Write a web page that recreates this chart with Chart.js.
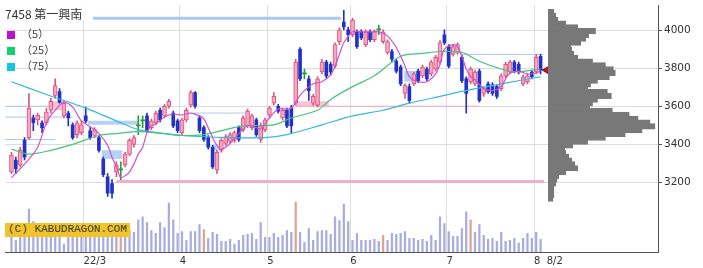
<!DOCTYPE html>
<html>
<head>
<meta charset="utf-8">
<script src="https://cdn.jsdelivr.net/npm/chart.js@4.4.0/dist/chart.umd.min.js"></script>
<style>
  body { margin: 0; background: #fff; }
  #wrap { position: relative; width: 703px; height: 268px; overflow: hidden; }
  #main { position: absolute; left: 0; top: 0; }
  #prof { position: absolute; }
  .ttl { position: absolute; left: 4px; top: 6px; font: 12px "Noto Sans CJK JP"; color: #333; background: #fff; padding: 0 11px 0 1px; line-height: 15px; }
  .lg { position: absolute; left: 7px; font: 11px "Noto Sans CJK JP"; color: #444; line-height: 12px; }
  .lg i { display: inline-block; width: 8px; height: 8px; margin-right: 6px; vertical-align: -1px; }
  .copy { position: absolute; left: 5px; top: 223px; height: 14px; line-height: 14px; padding: 0 3px; background: #f1c52a; color: #3a3a3a; font: 11px "Liberation Mono"; }
</style>
</head>
<body>
<div id="wrap">
  <canvas id="main" width="703" height="268"></canvas>
  <canvas id="prof"></canvas>
  <div class="ttl">7458 第一興南</div>
  <div class="lg" style="top:27px"><i style="background:#c010d0"></i>（5）</div>
  <div class="lg" style="top:43px"><i style="background:#10d070"></i>（25）</div>
  <div class="lg" style="top:59px"><i style="background:#10c8e0"></i>（75）</div>
  <div class="copy">(C) KABUDRAGON.COM</div>
</div>
<script>
// 日足 2022/2/2 - 8/2 (index 0..121)
var open = [3257,3319,3293,3422,3437,3540,3530,3515,3515,3581, 3659,3679,3551,3566,3504,3453,3463,3551,3473,3448,
            3437,3324,3231,3195,3257,3267,3293,3350,3401,3499, 3525,3551,3489,3515,3581,3551,3602,3566,3525,3463,
            3530,3607,3674,3540,3489,3437,3386,3267,3370,3406, 3417,3422,3489,3479,3499,3489,3530,3427,3479,3556,
            3618,3602,3540,3581,3592,3618,3901,3772,3746,3618, 3607,3782,3834,3823,3813,3942,4045,4004,3978,3993,
            3993,3926,3993,3952,4004,3942,3885,3890,3839,3808, 3669,3705,3720,3787,3762,3798,3772,3798,3834,3978,
            3916,3875,3885,3859,3746,3731,3720,3787,3669,3720, 3715,3705,3695,3762,3782,3834,3823,3720,3731,3782,
            3782,3865];
var high = [3360,3334,3386,3437,3669,3556,3566,3525,3592,3643, 3746,3695,3628,3576,3515,3525,3525,3597,3489,3489,
            3448,3334,3247,3216,3309,3309,3360,3432,3448,3551, 3551,3566,3535,3576,3592,3612,3638,3576,3535,3540,
            3592,3684,3679,3551,3499,3448,3396,3370,3432,3453, 3463,3473,3499,3551,3587,3561,3540,3515,3540,3602,
            3674,3612,3592,3592,3607,3849,3911,3798,3762,3664, 3757,3849,3844,3834,3936,4014,4107,4019,4065,4004,
            4004,4004,4004,4004,4029,4004,3952,3901,3849,3818, 3720,3720,3782,3798,3818,3808,3844,3870,3947,4004,
            3926,3926,3936,3870,3757,3808,3792,3798,3705,3731, 3726,3715,3772,3834,3844,3844,3834,3767,3772,3792,
            3875,3875];
var low  = [3247,3247,3283,3319,3427,3473,3504,3463,3504,3566, 3643,3618,3540,3499,3427,3437,3453,3515,3427,3437,
            3360,3231,3128,3118,3231,3216,3283,3340,3386,3453, 3489,3463,3479,3504,3520,3540,3592,3489,3463,3453,
            3520,3597,3592,3463,3417,3376,3273,3247,3360,3396, 3406,3412,3417,3468,3489,3479,3443,3412,3468,3545,
            3607,3566,3530,3489,3463,3607,3736,3746,3633,3607, 3597,3772,3751,3767,3803,3926,4004,3942,3968,3906,
            3952,3916,3942,3942,3978,3932,3875,3834,3777,3710, 3643,3618,3710,3726,3751,3736,3762,3787,3823,3926,
            3803,3865,3875,3726,3566,3720,3710,3623,3654,3669, 3659,3643,3684,3751,3772,3777,3772,3710,3720,3746,
            3772,3772];
var close = [3345,3273,3370,3334,3592,3515,3556,3489,3571,3628, 3710,3622,3618,3540,3437,3515,3504,3525,3437,3479,
             3370,3242,3144,3144,3293,3267,3350,3422,3437,3499, 3525,3473,3525,3566,3530,3602,3628,3499,3473,3530,
             3581,3674,3602,3473,3427,3386,3283,3360,3422,3442, 3453,3463,3427,3540,3576,3551,3453,3499,3530,3592,
             3654,3576,3581,3499,3499,3834,3746,3772,3684,3654, 3746,3834,3762,3782,3926,4004,4019,3978,4055,3916,
             3962,3993,3952,3993,4004,3993,3942,3849,3787,3720, 3710,3633,3772,3736,3808,3746,3834,3859,3936,3936,
             3813,3916,3926,3736,3669,3798,3782,3633,3695,3679, 3669,3654,3762,3823,3834,3787,3782,3757,3762,3757,
             3859,3792];
// 出来高 (千株)
var volume = [17,12,20,20,44,31,22,20,24,22, 26,22,8,18,22,20,18,22,20,18,
              24,26,28,26,20,15,22,22,20,33, 36,30,22,19,30,25,50,33,19,21,
              12,21,21,28,23,14,20,18,11,11, 13,8,12,17,18,19,13,30,15,15,
              19,15,17,22,20,51,20,10,24,12, 21,22,22,18,36,32,49,31,12,19,
              12,12,12,13,11,17,12,19,18,19, 21,14,14,12,13,11,17,12,36,29,
              21,16,16,24,41,33,20,28,17,13, 14,11,20,11,12,14,9,14,19,14,
              20,13];
var volMark = [25, 44, 65, 85, 105];

// 移動平均 (読み取り)
var ma5Day = [0,2,4,6,8,10,12,14,16,18,20,22,23,24,25,26,27,28,29,30,31,32,33,35,37,39,41,43,44,45,46,47,48,50,52,54,56,57,59,61,63,64,66,67,69,71,73,74,75,76,78,80,82,84,86,88,89,90,91,93,95,97,98,99,101,102,103,104,105,106,108,110,112,113,114,116,118,120,121];
var ma5Val = [3226,3273,3324,3386,3515,3581,3622,3597,3525,3494,3458,3396,3334,3283,3226,3236,3257,3298,3350,3386,3463,3499,3509,3545,3561,3556,3566,3551,3535,3489,3437,3396,3376,3406,3458,3499,3489,3484,3540,3587,3587,3592,3659,3684,3720,3731,3767,3813,3875,3936,3993,3993,3993,3993,3972,3911,3865,3813,3757,3731,3731,3772,3823,3901,3926,3916,3865,3798,3757,3741,3695,3684,3705,3746,3777,3787,3772,3777,3787];
var ma25Day = [0,4,9,14,20,24,29,35,39,44,49,53,60,64,70,73,78,83,89,94,98,103,107,112,115,121];
var ma25Val = [3376,3350,3370,3401,3448,3458,3468,3458,3448,3453,3479,3499,3504,3540,3581,3638,3705,3762,3865,3880,3890,3885,3839,3798,3782,3798];
var ma75Day = [0,8,17,24,29,35,39,49,58,63,71,78,85,91,98,105,112,121];
var ma75Val = [3731,3664,3592,3525,3479,3458,3448,3437,3437,3453,3504,3551,3581,3618,3654,3689,3720,3757];

// 月の区切り (最初の営業日の index)
var monthStart = [17, 39, 59, 78, 100, 120];
var monthLabel = ['22/3', '4', '5', '6', '7', '8'];
var lastLabel = '8/2';
var priceTicks = [3200, 3400, 3600, 3800, 4000];

// 水平線 [開始index, 終了index, 価格, 種類]
var levels = [[-2, 75.3, 4065, 'blueThick'], [24, 121.8, 3206, 'pinkThick'], [65, 107, 3602, 'pinkThin'],
              [102.5, 121.5, 3875, 'blueThin'], [41.7, 53.5, 3566, 'blueThin'],
              [-2, 9.3, 3602, 'blueThin'], [-2, 14, 3545, 'blueThin'], [-2, 10, 3427, 'blueThin']];
// 窓 [開始index, 終了index, 下値, 上値, 種類]
var gaps = [[8.8, 11.6, 3581, 3628, 'pink'], [17.5, 29, 3504, 3525, 'blue'], [20.6, 25.4, 3324, 3370, 'blue'],
            [45.8, 47.4, 3370, 3401, 'blue'], [65, 72.6, 3602, 3628, 'pink'], [89.8, 93.6, 3731, 3787, 'blue']];

// 価格帯別出来高
var profPrice = [4100,4080,4060,4040,4020,4000,3980,3960,3940,3920,3900,3880,3860,3840,3820,3800,3780,3760,3740,3720,
                 3700,3680,3660,3640,3620,3600,3580,3560,3540,3520,3500,3480,3460,3440,3420,3400,3380,3360,3340,3320,
                 3300,3280,3260,3240,3220,3200,3180,3160,3140,3120];
var profVol = [6,8,10,18,30,48,41,38,33,23,24,26,30,45,58,66,68,62,50,43,
               40,60,64,50,45,42,65,82,91,103,108,95,78,58,40,25,17,18,21,24,
               27,30,18,11,9,8,6,6,6,5];

var PRICE_MIN = 2835, PRICE_MAX = 4132;
var N = close.length;
var days = close.map(function (c, i) { return i; });
var kind = days.map(function (i) { return close[i] > open[i] ? 'up' : (close[i] < open[i] ? 'down' : 'doji'); });
var candleColor = {
  up:   { body: '#f5a8c0', edge: '#df5380' },
  down: { body: '#2232c4', edge: '#2232c4' },
  doji: { body: '#2f9a3c', edge: '#2f9a3c' }
};
var levelStyle = {
  blueThick: { color: '#a9c8ef', width: 3 }, pinkThick: { color: '#f1afca', width: 3 },
  blueThin: { color: '#a9c8ef', width: 1 }, pinkThin: { color: '#f1a9c4', width: 1 }
};
var gapColor = { blue: '#b5d2f6', pink: '#f8c3d4' };

var datasets = [];

// 終値マーカー
datasets.push({
  type: 'line', order: 0, showLine: false, data: [{ x: N - 1 + 1.4, y: close[N - 1] }],
  pointStyle: 'triangle', pointRotation: -90, pointRadius: 4.5,
  pointBackgroundColor: '#c8141c', pointBorderColor: '#7a1010', pointBorderWidth: 1
});

function maSet(d, v, color) {
  return { type: 'line', order: 1, data: d.map(function (x, k) { return { x: x, y: v[k] }; }),
           borderColor: color, borderWidth: 1.2, pointRadius: 0, tension: 0.3, fill: false };
}
datasets.push(maSet(ma5Day, ma5Val, '#d14fd3'));
datasets.push(maSet(ma25Day, ma25Val, '#45c47a'));
datasets.push(maSet(ma75Day, ma75Val, '#38b8da'));

['up', 'down', 'doji'].forEach(function (k) {
  var ids = days.filter(function (i) { return kind[i] === k; });
  datasets.push({
    type: 'bar', order: 2, grouped: false, barThickness: k === 'down' ? 3 : 4, minBarLength: 1,
    data: ids.map(function (i) { return { x: i, y: [open[i], close[i]] }; }),
    backgroundColor: candleColor[k].body, borderColor: candleColor[k].edge,
    borderWidth: k === 'up' ? 1 : 0, borderSkipped: false
  });
  datasets.push({
    type: 'bar', order: 3, grouped: false, barThickness: 1,
    data: ids.map(function (i) { return { x: i, y: [low[i], high[i]] }; }),
    backgroundColor: candleColor[k].edge
  });
});

levels.forEach(function (l) {
  var st = levelStyle[l[3]];
  datasets.push({ type: 'line', order: 5, data: [{ x: l[0], y: l[2] }, { x: l[1], y: l[2] }],
                  borderColor: st.color, borderWidth: st.width, pointRadius: 0, fill: false });
});
gaps.forEach(function (g) {
  datasets.push({ type: 'line', order: 5, data: [{ x: g[0], y: g[2] }, { x: g[1], y: g[2] }],
                  borderWidth: 0, pointRadius: 0, fill: false });
  datasets.push({ type: 'line', order: 5, data: [{ x: g[0], y: g[3] }, { x: g[1], y: g[3] }],
                  borderWidth: 0, pointRadius: 0, fill: '-1', backgroundColor: gapColor[g[4]] });
});

datasets.push({
  type: 'bar', order: 6, grouped: false, barThickness: 1.6, yAxisID: 'yv',
  data: days.map(function (i) { return { x: i, y: volume[i] }; }),
  backgroundColor: days.map(function (i) { return volMark.indexOf(i) >= 0 ? '#dea48e' : '#a9acdc'; })
});

var xTicks = monthStart.map(function (m) { return m - 0.5; }).concat([N - 1 + 1.4]);
var xLabels = monthLabel.concat([lastLabel]);

var chart = new Chart(document.getElementById('main'), {
  type: 'bar',
  data: { datasets: datasets },
  options: {
    responsive: false, animation: false,
    layout: { padding: 0 },
    plugins: { legend: { display: false }, tooltip: { enabled: false } },
    scales: {
      x: {
        type: 'linear', min: -1.36, max: 147.85, offset: false,
        grid: { offset: false, drawTicks: false,
                color: function (c) { return c.index === xTicks.length - 1 ? 'rgba(0,0,0,0)' : '#dcdcdc'; } },
        border: { color: '#555' },
        ticks: { align: 'start', padding: 3, color: '#333', autoSkip: false, maxRotation: 0,
                 font: { family: 'DejaVu Sans', size: 10 },
                 callback: function (v, i) { return xLabels[i]; } },
        afterBuildTicks: function (s) { s.ticks = xTicks.map(function (v) { return { value: v }; }); },
        afterFit: function (s) { s.height = 16; s.paddingLeft = 0; s.paddingRight = 0; }
      },
      y: {
        type: 'linear', position: 'right', min: PRICE_MIN, max: PRICE_MAX,
        grid: { color: '#dcdcdc', tickColor: '#555', tickLength: 4 },
        border: { color: '#555' },
        ticks: { padding: 2, color: '#333', font: { family: 'DejaVu Sans', size: 10.5 },
                 callback: function (v) { return String(v); } },
        afterBuildTicks: function (s) { s.ticks = priceTicks.map(function (v) { return { value: v }; }); },
        afterFit: function (s) { s.width = 45; s.paddingTop = 0; s.paddingBottom = 0; }
      },
      yv: { type: 'linear', display: false, min: 0, max: 252 }
    }
  }
});

// 価格帯別出来高 (右側)
var area = chart.chartArea;
var profLeft = chart.scales.x.getPixelForValue(N - 1 + 1.7);
var pc = document.getElementById('prof');
pc.width = Math.round(area.right - profLeft);
pc.height = Math.round(area.bottom - area.top);
pc.style.left = profLeft + 'px';
pc.style.top = area.top + 'px';
new Chart(pc, {
  type: 'bar',
  data: { datasets: [{
    data: profPrice.map(function (p, k) { return { x: profVol[k], y: p }; }),
    backgroundColor: '#787878', borderColor: '#787878', borderWidth: 1, borderSkipped: false,
    barThickness: 5.5, grouped: false
  }] },
  options: {
    indexAxis: 'y', responsive: false, animation: false,
    layout: { padding: 0 },
    plugins: { legend: { display: false }, tooltip: { enabled: false } },
    scales: {
      x: { type: 'linear', display: false, min: 0, max: 111 },
      y: { type: 'linear', display: false, min: PRICE_MIN, max: PRICE_MAX, offset: false }
    }
  }
});
</script>
</body>
</html>
